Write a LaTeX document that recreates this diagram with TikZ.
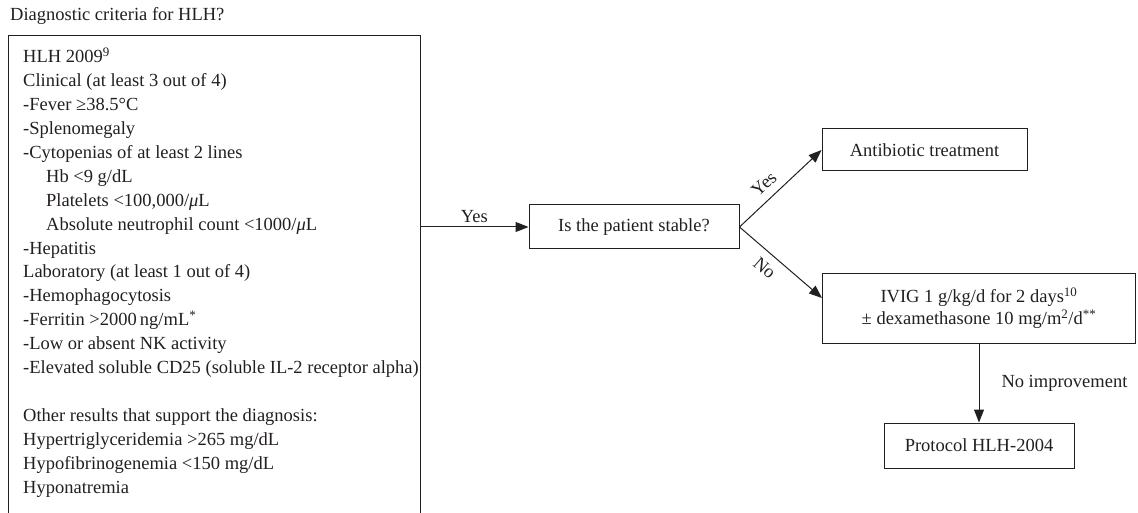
\documentclass[tikz,border=0pt]{standalone}
\usepackage{fontspec}
\setmainfont{Liberation Serif}
\usetikzlibrary{arrows.meta}
\definecolor{ink}{HTML}{231F20}
\begin{document}
\begin{tikzpicture}[x=1pt,y=-1pt,
  every node/.style={font=\fontsize{18.5}{23.9}\selectfont, text=ink},
  box/.style={draw=ink, line width=1pt, inner sep=0pt, align=center},
  arr/.style={draw=ink, line width=1pt, -{Triangle[length=13pt,width=10pt]}},
  lbl/.style={inner sep=4pt}]
\useasboundingbox (0,0) rectangle (1138,513);
\node[anchor=base west, inner sep=0pt] (title) at (10,21) {Diagnostic criteria for HLH?};
\draw[ink, line width=1pt] (8,513) |- (420,36) -- (420,513);
\node[anchor=base west, align=left, inner sep=0pt] (crit) at (23,493) {HLH 2009\textsuperscript{9}\\
Clinical (at least 3 out of 4)\\
-Fever ≥38.5°C\\
-Splenomegaly\\
-Cytopenias of at least 2 lines\\
\hspace*{23pt}Hb <9 g/dL\\
\hspace*{23pt}Platelets <100,000/\textit{μ}L\\
\hspace*{23pt}Absolute neutrophil count <1000/\textit{μ}L\\
-Hepatitis\\
Laboratory (at least 1 out of 4)\\
-Hemophagocytosis\\
-Ferritin >2000\,ng/mL\textsuperscript{*}\\
-Low or absent NK activity\\
-Elevated soluble CD25 (soluble IL-2 receptor alpha)\\
\mbox{}\\
Other results that support the diagnosis:\\
Hypertriglyceridemia >265 mg/dL\\
Hypofibrinogenemia <150 mg/dL\\
Hyponatremia};
\coordinate (critE) at (420,227);
\node[box, minimum width=210pt, minimum height=44pt] (stable) at (634,227) {Is the patient stable?};
\node[box, minimum width=205pt, minimum height=42pt] (anti) at (924.5,150) {Antibiotic treatment};
\node[box, minimum width=313pt, minimum height=70pt, align=center] (ivig) at (979,308) {IVIG 1 g/kg/d for 2 days\textsuperscript{10}\\[-2pt] ± dexamethasone 10 mg/m\textsuperscript{2}/d\textsuperscript{**}};
\node[box, minimum width=190pt, minimum height=45pt] (prot) at (979,445.5) {Protocol HLH-2004};
\draw[arr] (critE) -- node[lbl, above] {Yes} (stable.west);
\draw[arr] (stable.east) -- node[inner sep=8pt, above, sloped, pos=0.42] {Yes} (anti.west);
\draw[arr] (stable.east) -- node[inner sep=8pt, below, sloped, pos=0.42] {No} ([yshift=10pt]ivig.west);
\draw[arr] (ivig.south) -- node[lbl, right, xshift=18pt] {No improvement} (prot.north);
\end{tikzpicture}
\end{document}
